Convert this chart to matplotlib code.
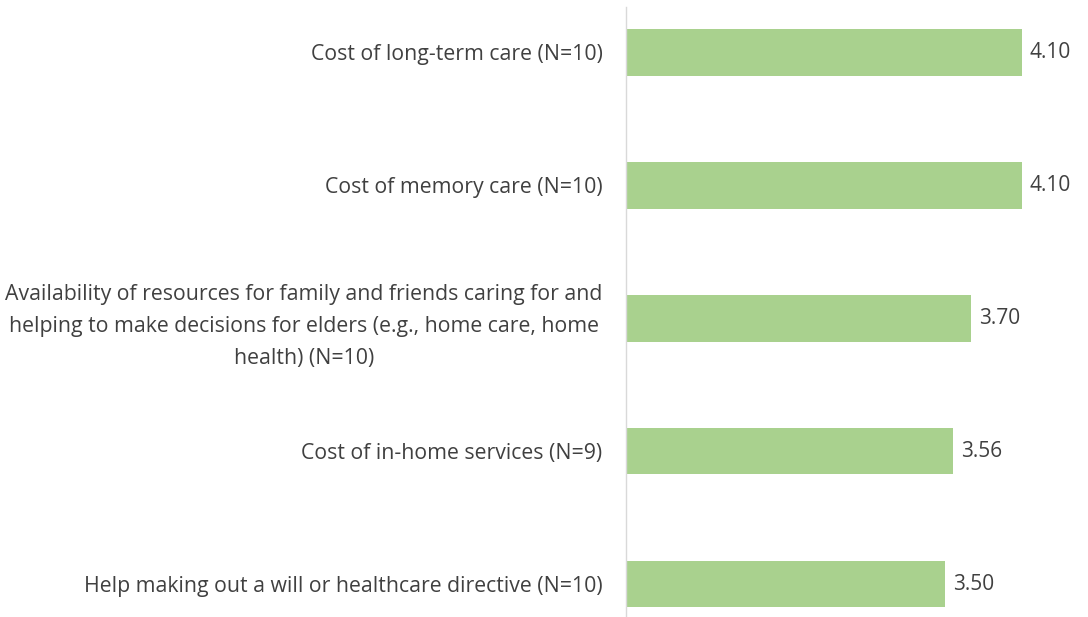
import matplotlib.pyplot as plt
import numpy as np

plt.switch_backend("Agg")
plt.rcParams["font.family"] = ["Open Sans", "DejaVu Sans"]

categories = [
    "Cost of long-term care (N=10)",
    "Cost of memory care (N=10)",
    "Availability of resources for family and friends caring for and\n"
    "helping to make decisions for elders (e.g., home care, home\n"
    "health) (N=10)",
    "Cost of in-home services (N=9)",
    "Help making out a will or healthcare directive (N=10)",
]
values = [4.10, 4.10, 3.70, 3.56, 3.50]

BAR_COLOR = "#A9D18E"
TEXT_COLOR = "#404040"

fig = plt.figure(figsize=(10.88, 6.17), dpi=100)
ax = fig.add_axes([626 / 1088, 0.0, 1 - 626 / 1088, 610 / 617])

y = np.arange(len(categories))
base = 1.0
ax.barh(y, np.array(values) - base, left=base, height=0.35, color=BAR_COLOR)

for yi, v in zip(y, values):
    ax.text(v + 0.065, yi, f"{v:.2f}", va="center", ha="left",
            fontsize=15, color=TEXT_COLOR)

ax.set_xlim(1.0, 4.62)
ax.set_ylim(4.248, -0.342)
ax.set_yticks(y)
ax.set_yticklabels(categories, fontsize=15.3, color=TEXT_COLOR, linespacing=1.7)
for lbl in ax.get_yticklabels():
    lbl.set_multialignment("center")
ax.tick_params(axis="y", length=0, pad=17)
ax.set_xticks([])

for side in ["top", "right", "bottom"]:
    ax.spines[side].set_visible(False)
ax.spines["left"].set_color("#D9D9D9")
ax.spines["left"].set_linewidth(1.0)

fig.savefig("out.png", dpi=100)
